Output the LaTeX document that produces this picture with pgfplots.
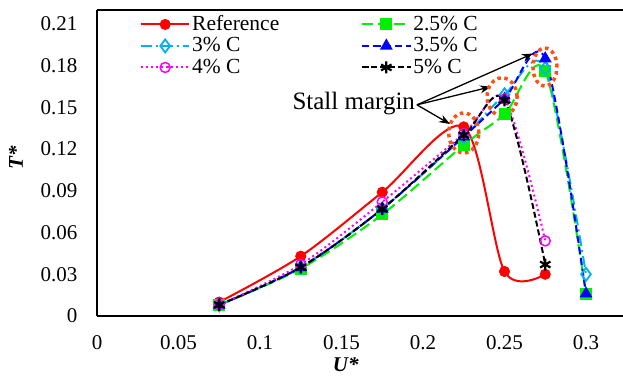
\documentclass[border=0pt]{standalone}
\usepackage{fontspec}
\setmainfont{Liberation Serif}
\usepackage{pgfplots}
\pgfplotsset{compat=1.18}
\usetikzlibrary{arrows.meta}

\definecolor{cRef}{RGB}{255,0,0}
\definecolor{cTwoFive}{RGB}{0,240,0}
\definecolor{cThree}{RGB}{0,176,240}
\definecolor{cThreeFive}{RGB}{0,0,255}
\definecolor{cFour}{RGB}{255,0,255}
\definecolor{cFive}{RGB}{0,0,0}
\definecolor{cStall}{RGB}{255,80,20}

\begin{document}
\begin{tikzpicture}[font=\fontsize{21}{24}\selectfont]
\useasboundingbox (-97pt,-63pt) rectangle (526pt,316pt);
\begin{axis}[
  scale only axis,
  width=526pt, height=306pt,
  xmin=0, xmax=0.3227, ymin=0, ymax=0.22,
  clip=false,
  axis x line*=bottom, axis y line*=left,
  axis line style={-, line width=1.3pt, black},
  xtick={0,0.05,0.1,0.15,0.2,0.25,0.3},
  ytick={0,0.03,0.06,0.09,0.12,0.15,0.18,0.21},
  major tick length=0pt,
  /pgf/number format/assume math mode=true,
  /pgf/number format/fixed,
  /pgf/number format/precision=2,
  xticklabel style={yshift=-16pt},
  yticklabel style={xshift=-16pt},
  xlabel={\textbf{\textit{U*}}},
  ylabel={\textbf{\textit{T*}}},
  xlabel style={at={(axis description cs:0.473,0)}, anchor=center, yshift=-49pt},
  ylabel style={at={(axis description cs:-0.154,0.516)}, anchor=center},
  legend columns=2,
  legend cell align=left,
  legend style={draw=none, fill=none, inner sep=0pt,
    at={(axis description cs:0,1)}, anchor=north west,
    xshift=43pt, yshift=-3.5pt,
    font=\fontsize{21.5}{21.5}\selectfont,
    nodes={inner xsep=2pt, inner ysep=1pt, text height=15.5pt, text depth=4pt},
    /tikz/every even column/.append style={column sep=80pt}},
  legend image code/.code={%
    \draw[mark repeat=2, mark phase=2, #1] plot coordinates {(0pt,0pt) (24pt,0pt) (48pt,0pt)};},
  every axis plot/.append style={line width=2pt, smooth},
]

% Reference blade
\addplot[cRef, solid, mark=*, mark size=4.5pt, mark options={solid, fill=cRef}]
  coordinates {(0.075,0.010) (0.125,0.043) (0.175,0.089) (0.225,0.136) (0.25,0.032) (0.275,0.030)};
\addlegendentry{Reference}

% 2.5% camber
\addplot[cTwoFive, dash pattern=on 11pt off 5pt, mark=square*, mark size=5pt, mark options={solid, fill=cTwoFive}]
  coordinates {(0.075,0.008) (0.125,0.034) (0.175,0.073) (0.225,0.123) (0.25,0.145) (0.275,0.176) (0.3,0.016)};
\addlegendentry{2.5\% C}

% 3% camber
\addplot[cThree, dash pattern=on 11pt off 4pt on 2pt off 4pt, mark=diamond, mark size=6.5pt, mark options={solid, line width=1.8pt}]
  coordinates {(0.075,0.008) (0.125,0.035) (0.175,0.077) (0.225,0.129) (0.25,0.159) (0.275,0.178) (0.3,0.030)};
\addlegendentry{3\% C}

% 3.5% camber
\addplot[cThreeFive, dash pattern=on 7pt off 4pt, mark=triangle*, mark size=5.5pt, mark options={solid, fill=cThreeFive}]
  coordinates {(0.075,0.008) (0.125,0.035) (0.175,0.077) (0.225,0.129) (0.25,0.156) (0.275,0.185) (0.3,0.016)};
\addlegendentry{3.5\% C}

% 4% camber
\addplot[cFour, dash pattern=on 2pt off 3pt, mark=o, mark size=5pt, mark options={solid, line width=1.5pt}]
  coordinates {(0.075,0.008) (0.125,0.037) (0.175,0.082) (0.225,0.131) (0.25,0.156) (0.275,0.054)};
\addlegendentry{4\% C}

% 5% camber
\addplot[cFive, dash pattern=on 6pt off 3pt, mark=asterisk, mark size=6pt, mark options={solid, line width=2.2pt}]
  coordinates {(0.075,0.008) (0.125,0.035) (0.175,0.077) (0.225,0.130) (0.25,0.155) (0.275,0.037)};
\addlegendentry{5\% C}

% stall margin annotation
\node[anchor=east, inner sep=1pt, font=\fontsize{25}{28}\selectfont] at (axis cs:0.1958,0.1525) {Stall margin};
\draw[-{Stealth[length=11pt,width=8pt]}, line width=1.3pt] (axis cs:0.1963,0.1518) -- (axis cs:0.2166,0.1380);
\draw[-{Stealth[length=11pt,width=8pt]}, line width=1.3pt] (axis cs:0.1963,0.1518) -- (axis cs:0.2417,0.1648);
\draw[-{Stealth[length=11pt,width=8pt]}, line width=1.3pt] (axis cs:0.1963,0.1518) -- (axis cs:0.2675,0.1887);
\draw[cStall, line width=3.5pt, dash pattern=on 3.5pt off 3.5pt] (axis cs:0.225,0.1316) ellipse [x radius=15pt, y radius=20pt];
\draw[cStall, line width=3.5pt, dash pattern=on 3.5pt off 3.5pt] (axis cs:0.2485,0.1576) ellipse [x radius=15pt, y radius=19pt];
\draw[cStall, line width=3.5pt, dash pattern=on 3.5pt off 3.5pt] (axis cs:0.2748,0.1790) ellipse [x radius=12pt, y radius=19pt];

% top border of the plot area
\draw[line width=1.8pt, black] (rel axis cs:0,1) -- (rel axis cs:1,1);
\end{axis}
\end{tikzpicture}
\end{document}
